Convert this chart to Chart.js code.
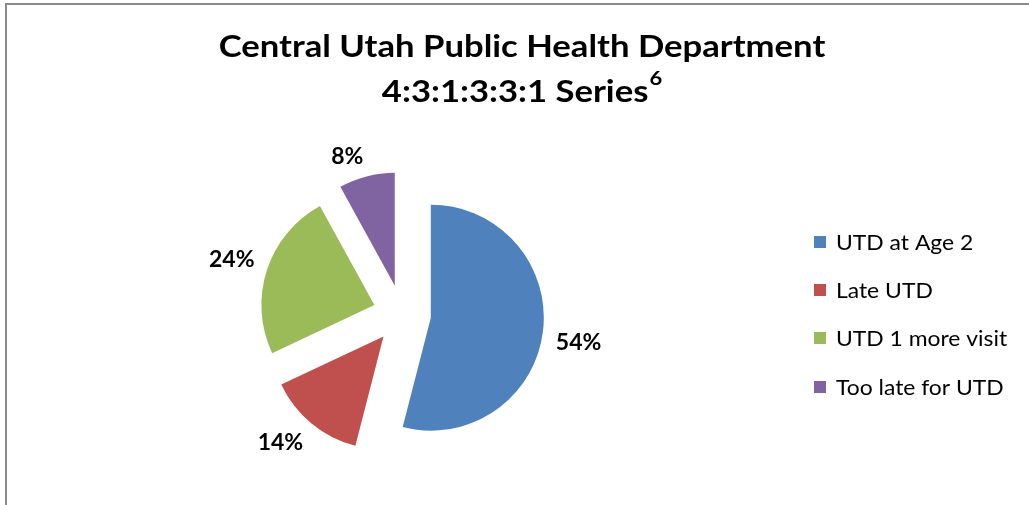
<!DOCTYPE html>
<html>
<head>
<meta charset="utf-8">
<script src="https://cdn.jsdelivr.net/npm/chart.js@4/dist/chart.umd.min.js"></script>
<style>
  html, body { margin: 0; padding: 0; background: #fff; }
  #wrap { position: relative; width: 1029px; height: 505px; overflow: hidden; }
  #frame { position: absolute; left: 5px; top: 3px; width: 1100px; height: 600px;
           border-top: 2px solid #8a8a8a; border-left: 2px solid #8a8a8a; box-sizing: border-box; }
  canvas { position: absolute; left: 0; top: 0; }
</style>
</head>
<body>
<div id="wrap">
  <div id="frame"></div>
  <canvas id="c" width="1029" height="505"></canvas>
</div>
<script>
const categories = ['UTD at Age 2', 'Late UTD', 'UTD 1 more visit', 'Too late for UTD'];
const values = [54, 14, 24, 8];
const valueLabels = ['54%', '14%', '24%', '8%'];
const colors = ['#4F81BD', '#C0504D', '#9BBB59', '#8064A2'];
const titleLine1 = 'Central Utah Public Health Department';
const titleLine2 = '4:3:1:3:3:1 Series';
const titleSup = '6';

const EXPLODE = 0.257;   // fraction of radius each slice is pulled out
const LABEL_GAP = 13;

function stretchedText(ctx, txt, x, y, sx) {
  ctx.save();
  ctx.translate(x, y);
  ctx.scale(sx, 1);
  ctx.fillText(txt, 0, 0);
  ctx.restore();
}

const explodePlugin = {
  id: 'explode',
  afterDatasetsUpdate(chart) {
    const ca = chart.chartArea;
    const bx = (ca.left + ca.right) / 2, by = (ca.top + ca.bottom) / 2;
    const meta = chart.getDatasetMeta(0);
    meta.data.forEach(arc => {
      const mid = (arc.startAngle + arc.endAngle) / 2;
      const d = arc.outerRadius * EXPLODE;
      arc.x = bx + Math.cos(mid) * d;
      arc.y = by + Math.sin(mid) * d;
    });
  }
};

const decorPlugin = {
  id: 'decor',
  afterDraw(chart) {
    const ctx = chart.ctx;
    ctx.save();
    // percentage labels outside each slice (nearest corner anchored on the mid-angle ray)
    const meta = chart.getDatasetMeta(0);
    ctx.font = 'bold 23px Lato';
    ctx.fillStyle = '#000';
    ctx.textAlign = 'center';
    ctx.textBaseline = 'middle';
    meta.data.forEach((arc, i) => {
      const mid = (arc.startAngle + arc.endAngle) / 2;
      const txt = valueLabels[i];
      const w = ctx.measureText(txt).width, h = 16;
      const cx = Math.cos(mid), cy = Math.sin(mid);
      const R = arc.outerRadius + LABEL_GAP;
      const ax = arc.x + cx * R, ay = arc.y + cy * R;
      ctx.fillText(txt, ax + Math.sign(cx) * w / 2, ay + Math.sign(cy) * h / 2 + 1);
    });
    // title
    ctx.textAlign = 'left';
    ctx.textBaseline = 'alphabetic';
    const tsx = 1.155;
    const tc = 522;
    ctx.font = 'bold 30px Lato';
    const w1 = ctx.measureText(titleLine1).width * tsx;
    stretchedText(ctx, titleLine1, tc - w1 / 2, 57, tsx);
    const w2 = ctx.measureText(titleLine2).width * tsx;
    ctx.font = 'bold 19px Lato';
    const ws = ctx.measureText(titleSup).width * tsx;
    const x2 = tc - (w2 + ws + 1) / 2;
    ctx.font = 'bold 30px Lato';
    stretchedText(ctx, titleLine2, x2, 102, tsx);
    ctx.font = 'bold 19px Lato';
    stretchedText(ctx, titleSup, x2 + w2 + 1, 85, tsx);
    // legend
    ctx.font = '22px Lato';
    ctx.textBaseline = 'middle';
    categories.forEach((name, i) => {
      const y = 241.7 + i * 48.3;
      ctx.fillStyle = colors[i];
      ctx.fillRect(814, Math.round(y - 6), 12, 12);
      ctx.fillStyle = '#000';
      stretchedText(ctx, name, 836, y + 1, 1.04);
    });
    ctx.restore();
  }
};

new Chart(document.getElementById('c'), {
  type: 'pie',
  data: {
    labels: categories,
    datasets: [{
      data: values,
      backgroundColor: colors,
      borderWidth: 0,
      hoverOffset: 0
    }]
  },
  options: {
    responsive: false,
    animation: false,
    events: [],
    layout: { padding: { left: 289, right: 514, top: 201, bottom: 78 } },
    plugins: {
      legend: { display: false },
      title: { display: false },
      tooltip: { enabled: false }
    }
  },
  plugins: [explodePlugin, decorPlugin]
});
</script>
</body>
</html>
